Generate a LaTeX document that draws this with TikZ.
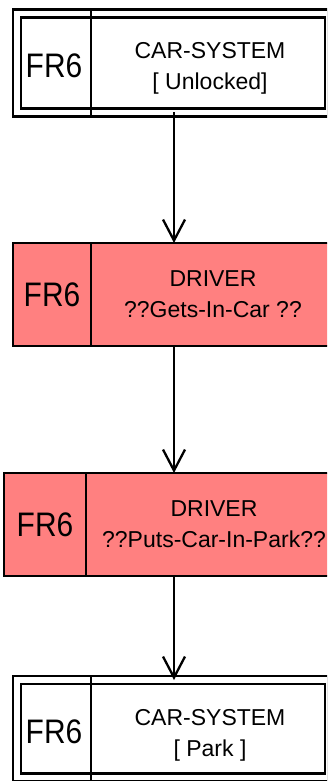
\documentclass[tikz,border=0pt]{standalone}
\usepackage{fontspec}
\setmainfont{Liberation Sans}
\newfontfamily\frfont{Liberation Sans}[FakeStretch=0.88]
\usepackage{xcolor}
\usetikzlibrary{arrows.meta, positioning}
\definecolor{drivercolor}{RGB}{255, 128, 128}

\begin{document}
\begin{tikzpicture}[x=1pt, y=-1pt,
    frcell/.style={inner sep=0pt, outer sep=0pt, font=\frfont\fontsize{34}{34}\selectfont},
    statetext/.style={inner sep=0pt, align=center, font=\fontsize{23}{31}\selectfont},
    sysframe/.style={draw, line width=2.3pt, double, double distance=5.7pt, inner sep=0pt, outer sep=0pt},
    drivercell/.style={draw, line width=2.3pt, fill=drivercolor, inner sep=0pt, outer sep=0pt, minimum height=103pt},
    divline/.style={line width=2.3pt, shorten <=-5pt, shorten >=-5pt},
    flow/.style={-{Straight Barb[length=21pt, width=22pt]}, line width=2.3pt}]
        \useasboundingbox (0,0) rectangle (327,781);
        \clip (0,0) rectangle (327,781);

        % Car-system box (unlocked)
        \node[sysframe, minimum width=312pt, minimum height=99pt] (sys1) at (173,63) {};
        \node[frcell, minimum width=74pt] (fr1) at (54,66) {FR6};
        \node[statetext] (car1) at (210,68) {CAR-SYSTEM\\{}[ Unlocked]};
        \draw[divline] (sys1.north -| fr1.east) -- (sys1.south -| fr1.east);

        % Driver box (gets in car)
        \node[drivercell, frcell, minimum width=78pt] (fr2) at (52,294.5) {FR6};
        \node[drivercell, statetext, minimum width=244pt, right=0pt of fr2] (drv2) {DRIVER\\??Gets-In-Car ??};

        % Driver box (puts car in park)
        \node[drivercell, frcell, minimum width=82pt] (fr3) at (45,524.5) {FR6};
        \node[drivercell, statetext, minimum width=256pt, right=0pt of fr3] (drv3) {DRIVER\\??Puts-Car-In-Park??};

        % Car-system box (park)
        \node[sysframe, minimum width=312pt, minimum height=97.5pt] (sys4) at (173,728.75) {};
        \node[frcell, minimum width=74pt] (fr4) at (54,731.5) {FR6};
        \node[statetext] (car4) at (210,735.5) {CAR-SYSTEM\\{}[ Park ]};
        \draw[divline] (sys4.north -| fr4.east) -- (sys4.south -| fr4.east);

        % Arrows
        \coordinate (spine) at (174,0);
        \draw[flow] (sys1.south -| spine) -- (drv2.north -| spine);
        \draw[flow] (drv2.south -| spine) -- (drv3.north -| spine);
        \draw[flow] (drv3.south -| spine) -- (sys4.north -| spine);
    \end{tikzpicture}
\end{document}
